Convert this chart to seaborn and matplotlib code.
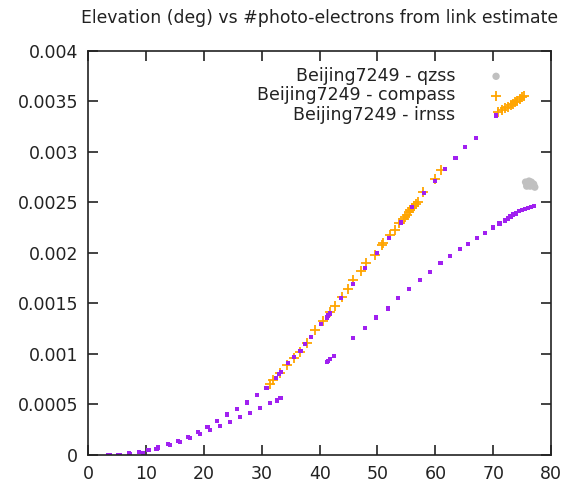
import matplotlib
matplotlib.use("Agg")
import matplotlib.pyplot as plt
import seaborn as sns
import pandas as pd

# ---- data ----
qzss_x = [75.6, 76.0, 76.4, 76.8, 77.2, 75.8, 76.6, 77.0, 76.2]
qzss_y = [0.00270, 0.00268, 0.00266, 0.00267, 0.00265, 0.00266, 0.00270, 0.00268, 0.00271]

compass_x = [31.5, 32.0, 33.2, 34.3, 35.5, 36.6, 37.8, 39.2, 40.5, 41.8, 42.6, 43.8,
             44.9, 45.8, 47.1, 48.1, 49.5, 50.7, 51.0, 52.2, 53.0, 53.8, 54.5, 54.8,
             55.1, 55.4, 55.7, 56.0, 56.3, 56.6, 57.0, 57.9, 59.9, 60.9,
             70.8, 71.5, 72.0, 72.5, 73.0, 73.4, 73.8, 74.2, 74.6, 75.0, 75.3]
compass_y = [0.00070, 0.00074, 0.00081, 0.00089, 0.00096, 0.00102, 0.00111, 0.00124,
             0.00133, 0.00141, 0.00147, 0.00156, 0.00164, 0.00173, 0.00182, 0.00190,
             0.00198, 0.00208, 0.00210, 0.00218, 0.00223, 0.00230, 0.00233, 0.00235,
             0.00237, 0.00240, 0.00242, 0.00244, 0.00246, 0.00248, 0.00250, 0.00260,
             0.00273, 0.00282,
             0.00339, 0.00341, 0.00343, 0.00344, 0.00346, 0.00347, 0.00349, 0.00350,
             0.00352, 0.00354, 0.00355]

irnss_x = [3.5, 5.2, 7.0, 8.7, 10.4, 12.1, 13.8, 15.5, 17.2, 18.9, 20.6, 22.3, 24.0,
           25.7, 27.4, 29.1, 30.8, 32.5, 33.0, 33.3, 34.5, 35.5, 36.7, 37.5, 38.5,
           40.3, 41.2, 41.5, 41.8, 43.7, 45.8, 47.8, 49.9, 52.0, 54.0, 56.0, 58.0,
           59.9, 61.7, 63.5, 65.2, 67.0,
           3.7, 5.5, 7.2, 9.5, 11.8, 14.1, 15.8, 17.6, 19.3, 21.0, 22.7, 24.5, 26.2,
           27.9, 29.7, 31.4, 32.6, 33.1, 33.3,
           41.2, 41.5, 41.8, 42.5,
           45.8, 47.9, 49.8, 51.8, 53.6, 55.5, 57.4, 59.1, 60.9, 62.5, 64.2, 65.7,
           67.2, 68.6, 70.0, 71.1, 72.0, 72.5, 73.0, 73.5, 74.0, 74.5, 75.0, 75.5,
           76.0, 76.5, 77.0]
irnss_y = [0.0, 0.000004, 0.000015, 0.00003, 0.00005, 0.000075, 0.000106, 0.00014,
           0.00018, 0.00023, 0.00028, 0.00034, 0.00040, 0.000455, 0.00052, 0.00059,
           0.00066, 0.00076, 0.00080, 0.00082, 0.00091, 0.00097, 0.00103, 0.00110,
           0.00117, 0.00130, 0.00136, 0.00138, 0.00140, 0.00155, 0.00169, 0.00185,
           0.00200, 0.00215, 0.00230, 0.00245, 0.00259, 0.00271, 0.00283, 0.00294,
           0.00305, 0.00314,
           0.0, 0.000003, 0.00001, 0.000023, 0.000056, 0.00010, 0.000132, 0.000171,
           0.000208, 0.000247, 0.000287, 0.00033, 0.000373, 0.000418, 0.000462,
           0.000511, 0.00054, 0.00056, 0.000565,
           0.00092, 0.000933, 0.00095, 0.00098,
           0.00116, 0.00126, 0.00136, 0.00145, 0.00155, 0.00164, 0.00173, 0.00181,
           0.00190, 0.00197, 0.00204, 0.00209, 0.00215, 0.00220, 0.00225, 0.00229,
           0.00232, 0.00234, 0.00236, 0.00238, 0.00239, 0.00241, 0.00242, 0.00243,
           0.00244, 0.00245, 0.00246]

labels = ["Beijing7249 - qzss", "Beijing7249 - compass", "Beijing7249 - irnss"]
x_ticks = [0, 10, 20, 30, 40, 50, 60, 70, 80]
y_ticks = [0, 0.0005, 0.001, 0.0015, 0.002, 0.0025, 0.003, 0.0035, 0.004]
y_tick_labels = ["0", "0.0005", "0.001", "0.0015", "0.002", "0.0025", "0.003", "0.0035", "0.004"]
title = "Elevation (deg) vs #photo-electrons from link estimate"

# ---- plotting ----
sns.set_style("ticks")
plt.rcParams['font.family'] = ['DejaVu Sans']

fig = plt.figure(figsize=(5.66, 4.86), dpi=100)
ax_left, ax_right, ax_top, ax_bottom = 88.3, 551.0, 50.7, 455.0
ax = fig.add_axes([ax_left / 566, 1 - ax_bottom / 486,
                   (ax_right - ax_left) / 566, (ax_bottom - ax_top) / 486])

df_q = pd.DataFrame({"x": qzss_x, "y": qzss_y})
df_c = pd.DataFrame({"x": compass_x, "y": compass_y})
df_i = pd.DataFrame({"x": irnss_x, "y": irnss_y})

sns.scatterplot(data=df_q, x="x", y="y", ax=ax, color="#c0c0c0", marker="o",
                s=28, edgecolor="none", label=labels[0])
sns.scatterplot(data=df_c, x="x", y="y", ax=ax, color="#ffa500", marker="+",
                s=45, linewidth=1.3, label=labels[1])
sns.scatterplot(data=df_i, x="x", y="y", ax=ax, color="#a020f0", marker="s",
                s=9, edgecolor="none", label=labels[2])

ax.set_xlim(0, 80)
ax.set_ylim(0, 0.004)
ax.set_xticks(x_ticks)
ax.set_xticklabels([str(t) for t in x_ticks])
ax.set_yticks(y_ticks)
ax.set_yticklabels(y_tick_labels)
ax.set_xlabel("")
ax.set_ylabel("")

for sp in ax.spines.values():
    sp.set_visible(True)
    sp.set_linewidth(1.2)
    sp.set_color("#222222")
ax.tick_params(axis="both", direction="in", length=7, width=1.2, color="#222222",
               top=True, right=True, labelsize=12.5, labelcolor="#222222", pad=7.5)

leg = ax.legend(loc="upper right", bbox_to_anchor=(0.9, 0.96), frameon=False,
                markerfirst=False, handlelength=1.0, handletextpad=1.85,
                borderpad=0, borderaxespad=0, labelspacing=0.09, fontsize=12.5,
                scatterpoints=1)
for t in leg.get_texts():
    t.set_color("#222222")

fig.text((ax_left + ax_right) / 2 / 566, 1 - 18 / 486, title, ha="center",
         va="center", fontsize=12.4, color="#222222")

fig.savefig("out.png", dpi=100)
